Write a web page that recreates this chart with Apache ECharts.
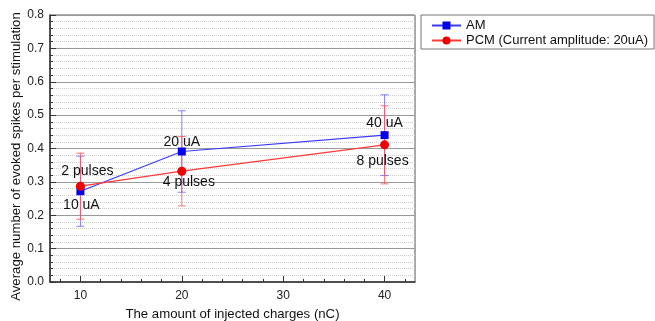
<!DOCTYPE html>
<html>
<head>
<meta charset="utf-8">
<script src="https://cdn.jsdelivr.net/npm/echarts@6/dist/echarts.min.js"></script>
<style>
  html, body { margin: 0; padding: 0; background: #fff; }
  #chart { width: 655px; height: 321px; }
</style>
</head>
<body>
<div id="chart"></div>
<script>
// data
const charges = [10, 20, 40];
const amMean = [0.272, 0.391, 0.440];
const amErr = [0.105, 0.122, 0.121];
const amText = ['10 uA', '20 uA', '40 uA'];
const pcmMean = [0.287, 0.332, 0.411];
const pcmErr = [0.099, 0.104, 0.117];
const pcmText = ['2 pulses', '4 pulses', '8 pulses'];
const xTicks = [10, 20, 30, 40];
const xMinorTicks = [8, 12, 14, 16, 18, 22, 24, 26, 28, 32, 34, 36, 38, 42];

const FONT = 'Liberation Sans, Arial, sans-serif';
const myChart = echarts.init(document.getElementById('chart'));

const pts = (ys) => charges.map((x, i) => [x, ys[i]]);
const errData = (ys, es) => charges.map((x, i) => [x, ys[i] - es[i], ys[i] + es[i]]);

// error bar drawing
function errorBar(color) {
  return function (params, api) {
    const x = api.value(0);
    const lo = api.coord([x, api.value(1)]);
    const hi = api.coord([x, api.value(2)]);
    const w = 4;
    const style = { stroke: color, lineWidth: 1 };
    return {
      type: 'group',
      children: [
        { type: 'line', shape: { x1: lo[0], y1: lo[1], x2: hi[0], y2: hi[1] }, style },
        { type: 'line', shape: { x1: lo[0] - w, y1: lo[1], x2: lo[0] + w, y2: lo[1] }, style },
        { type: 'line', shape: { x1: hi[0] - w, y1: hi[1], x2: hi[0] + w, y2: hi[1] }, style }
      ]
    };
  };
}

function pointLabels(texts, positions, offsets) {
  return texts.map((t, i) => ({
    show: true,
    position: positions[i],
    offset: offsets[i],
    formatter: t,
    color: '#111',
    fontSize: 14,
    fontFamily: FONT,
    distance: 4
  }));
}

const amLabels = pointLabels(amText, ['bottom', 'top', 'top'], [[1, -1], [0, 6], [0, 3]]);
const pcmLabels = pointLabels(pcmText, ['top', 'bottom', 'bottom'], [[7, 0], [7, -5], [-2, 1]]);

myChart.setOption({
  animation: false,
  textStyle: { fontFamily: FONT },
  grid: {
    left: 50, right: 240, top: 15, bottom: 39,
    outerBoundsMode: 'none',
    containLabel: false,
    show: true, borderColor: '#555', borderWidth: 1
  },
  legend: {
    orient: 'vertical',
    left: 421, top: 15,
    width: 233,
    padding: [4, 6, 2, 10],
    itemGap: 2,
    itemWidth: 29,
    itemHeight: 10,
    borderColor: '#777',
    borderWidth: 1,
    textStyle: { fontSize: 13, lineHeight: 12, color: '#111', fontFamily: FONT },
    data: ['AM', 'PCM (Current amplitude: 20uA)']
  },
  xAxis: [
    {
      type: 'value', min: 7, max: 43,
      name: 'The amount of injected charges (nC)',
      nameLocation: 'middle', nameGap: 26, nameMoveOverlap: false,
      nameTextStyle: { fontSize: 13.2, color: '#111' },
      axisLine: { lineStyle: { color: '#333', width: 1.5 } },
      axisTick: { inside: true, length: 6, customValues: xTicks, lineStyle: { color: '#333' } },
      axisLabel: { customValues: xTicks, fontSize: 12, color: '#222', margin: 8 },
      splitLine: { show: false }
    },
    {
      type: 'value', min: 7, max: 43, position: 'bottom',
      axisLine: { show: false },
      axisTick: { inside: true, length: 3, customValues: xMinorTicks, lineStyle: { color: '#333' } },
      axisLabel: { show: false },
      splitLine: { show: false }
    }
  ],
  yAxis: {
    type: 'value', min: 0, max: 0.8, interval: 0.1,
    name: 'Average number of evoked spikes per stimulation',
    nameLocation: 'middle', nameGap: 27, nameMoveOverlap: false,
    nameTextStyle: { fontSize: 13.2, color: '#111', padding: [0, 16, 0, 0] },
    axisLine: { show: true, lineStyle: { color: '#333', width: 1.5 } },
    axisTick: { inside: true, length: 6, lineStyle: { color: '#333' } },
    minorTick: { show: true, splitNumber: 5, length: 3, lineStyle: { color: '#333' } },
    axisLabel: { fontSize: 12, color: '#222', margin: 6, formatter: (v) => v.toFixed(1) },
    splitLine: { show: true, lineStyle: { color: '#999', width: 1 } },
    minorSplitLine: { show: true, lineStyle: { color: '#ccc', type: 'dotted', width: 1 } }
  },
  series: [
    {
      type: 'custom', name: 'amErr',
      renderItem: errorBar('rgba(90,90,255,0.75)'),
      data: errData(amMean, amErr), z: 2, silent: true
    },
    {
      type: 'custom', name: 'pcmErr',
      renderItem: errorBar('rgba(255,80,80,0.8)'),
      data: errData(pcmMean, pcmErr), z: 3, silent: true
    },
    {
      name: 'AM', type: 'line',
      data: pts(amMean).map((d, i) => ({ value: d, label: amLabels[i] })),
      symbol: 'rect', symbolSize: 8,
      lineStyle: { color: '#3a3aff', width: 1.2 },
      itemStyle: { color: '#0000ee' },
      z: 4
    },
    {
      name: 'PCM (Current amplitude: 20uA)', type: 'line',
      data: pts(pcmMean).map((d, i) => ({ value: d, label: pcmLabels[i] })),
      symbol: 'circle', symbolSize: 9,
      lineStyle: { color: '#ff3a3a', width: 1.2 },
      itemStyle: { color: '#ee0000' },
      z: 5
    }
  ]
});
</script>
</body>
</html>
